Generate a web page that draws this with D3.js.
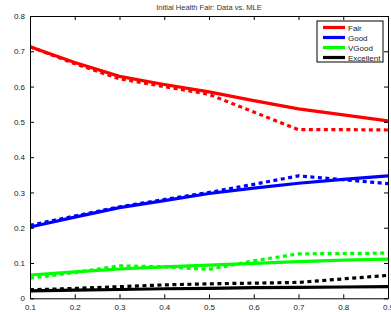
<!DOCTYPE html>
<html>
<head>
<meta charset="utf-8">
<script src="https://cdn.jsdelivr.net/npm/d3@7"></script>
<style>
  body { margin: 0; background: #fff; }
  svg { display: block; font-family: "Liberation Sans", Arial, sans-serif; }
</style>
</head>
<body>
<div id="chart"></div>
<script>
// data
var xs = [0.1, 0.2, 0.3, 0.4, 0.5, 0.6, 0.7, 0.8, 0.9];
var categories = ['Fair', 'Good', 'VGood', 'Excellent'];
var colors = ['#ff0000', '#0000ff', '#00ff00', '#000000'];

// MLE (solid)
var fairMle = [0.713, 0.668, 0.629, 0.606, 0.585, 0.560, 0.537, 0.520, 0.503];
var goodMle = [0.202, 0.230, 0.257, 0.277, 0.297, 0.312, 0.326, 0.337, 0.347];
var vgoodMle = [0.066, 0.075, 0.083, 0.089, 0.094, 0.099, 0.104, 0.108, 0.111];
var excMle = [0.021, 0.023, 0.025, 0.027, 0.028, 0.030, 0.031, 0.032, 0.033];

// data (dashed)
var fairData = [0.713, 0.665, 0.622, 0.600, 0.578, 0.528, 0.478, 0.478, 0.477];
var goodData = [0.207, 0.233, 0.259, 0.280, 0.300, 0.323, 0.347, 0.336, 0.325];
var vgoodData = [0.057, 0.073, 0.092, 0.089, 0.082, 0.106, 0.126, 0.127, 0.128];
var excData = [0.024, 0.028, 0.033, 0.038, 0.041, 0.043, 0.045, 0.055, 0.065];

var xTicks = [0.1, 0.2, 0.3, 0.4, 0.5, 0.6, 0.7, 0.8, 0.9];
var yTicks = [0, 0.1, 0.2, 0.3, 0.4, 0.5, 0.6, 0.7, 0.8];

var mle = [fairMle, goodMle, vgoodMle, excMle];
var obs = [fairData, goodData, vgoodData, excData];

var width = 391, height = 312;
var margin = { top: 16, left: 30, right: 3, bottom: 14 };
var w = 388 - margin.left, h = 298.3 - margin.top;

var svg = d3.select('#chart').append('svg')
  .attr('width', width).attr('height', height);

var x = d3.scaleLinear().domain([0.1, 0.9]).range([0, w]);
var y = d3.scaleLinear().domain([0, 0.8]).range([h, 0]);

var g = svg.append('g')
  .attr('transform', 'translate(' + margin.left + ',' + margin.top + ')');

var clip = svg.append('clipPath').attr('id', 'clip')
  .append('rect').attr('width', w).attr('height', h);

var line = d3.line()
  .x(function(d, i){ return x(xs[i]); })
  .y(function(d){ return y(d); });

var plot = g.append('g').attr('clip-path', 'url(#clip)');

obs.forEach(function(s, i){
  plot.append('path')
    .datum(s)
    .attr('d', line)
    .attr('fill', 'none')
    .attr('stroke', colors[i])
    .attr('stroke-width', 3.2)
    .attr('stroke-dasharray', '4,3.5');
});

mle.forEach(function(s, i){
  plot.append('path')
    .datum(s)
    .attr('d', line)
    .attr('fill', 'none')
    .attr('stroke', colors[i])
    .attr('stroke-width', 3.2);
});

// axes, ticks pointing inward on all sides
function fmt(d){ return d === 0 ? '0' : d3.format('.1f')(d); }

var xb = g.append('g').attr('transform', 'translate(0,' + h + ')')
  .call(d3.axisBottom(x).tickValues(xTicks).tickSizeInner(-4).tickSizeOuter(0).tickPadding(6).tickFormat(fmt));
var xt = g.append('g')
  .call(d3.axisTop(x).tickValues(xTicks).tickSizeInner(-4).tickSizeOuter(0).tickFormat(''));
var yl = g.append('g')
  .call(d3.axisLeft(y).tickValues(yTicks).tickSizeInner(-4).tickSizeOuter(0).tickPadding(5).tickFormat(fmt));
var yr = g.append('g').attr('transform', 'translate(' + w + ',0)')
  .call(d3.axisRight(y).tickValues(yTicks).tickSizeInner(-4).tickSizeOuter(0).tickFormat(''));

[xb, xt, yl, yr].forEach(function(a){
  a.select('.domain').attr('stroke', '#000').attr('stroke-width', 1);
  a.selectAll('.tick line').attr('stroke', '#000');
  a.selectAll('text').attr('font-size', 8).attr('fill', '#222')
    .style('font-family', '"Liberation Sans", Arial, sans-serif');
});

// title
svg.append('text')
  .attr('x', margin.left + w / 2)
  .attr('y', 10)
  .attr('text-anchor', 'middle')
  .attr('font-size', 7.5)
  .attr('fill', '#333')
  .text('Initial Health Fair: Data vs. MLE');

// legend
var legend = svg.append('g').attr('transform', 'translate(317,21)');
legend.append('rect')
  .attr('width', 66).attr('height', 41)
  .attr('fill', '#fff').attr('stroke', '#000').attr('stroke-width', 1);

categories.forEach(function(c, i){
  var ly = 6.5 + i * 10;
  legend.append('line')
    .attr('x1', 6).attr('x2', 28)
    .attr('y1', ly).attr('y2', ly)
    .attr('stroke', colors[i]).attr('stroke-width', 3.2);
  legend.append('text')
    .attr('x', 31).attr('y', ly + 3)
    .attr('font-size', 8).attr('fill', '#222')
    .text(c);
});
</script>
</body>
</html>
